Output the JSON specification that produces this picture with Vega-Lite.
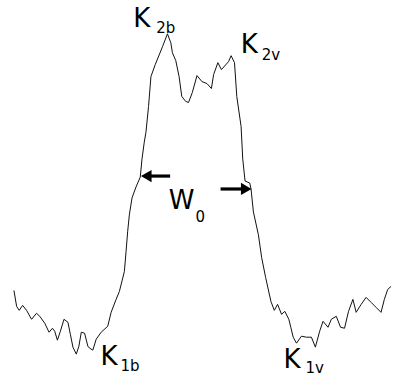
{
  "$schema": "https://vega.github.io/schema/vega-lite/v6.json",
  "width": 393,
  "height": 376,
  "padding": 0,
  "autosize": {"type": "fit", "contains": "padding"},
  "background": "white",
  "config": {"view": {"stroke": null}},
  "datasets": {
    "profile": [
      {"x": 14, "I": 84}, {"x": 16.7, "I": 68}, {"x": 19.3, "I": 64}, {"x": 22.7, "I": 69},
      {"x": 26.7, "I": 64}, {"x": 31.7, "I": 55}, {"x": 36.7, "I": 61}, {"x": 40, "I": 58},
      {"x": 45, "I": 51}, {"x": 49.3, "I": 42}, {"x": 52.7, "I": 46}, {"x": 55, "I": 43},
      {"x": 57.7, "I": 34}, {"x": 60.7, "I": 43}, {"x": 64.3, "I": 55}, {"x": 68.3, "I": 52},
      {"x": 70.7, "I": 40}, {"x": 73.3, "I": 27}, {"x": 76.7, "I": 20}, {"x": 79.3, "I": 28},
      {"x": 81.7, "I": 42}, {"x": 85, "I": 41}, {"x": 88.3, "I": 28}, {"x": 90, "I": 26},
      {"x": 93.3, "I": 24}, {"x": 96.7, "I": 35}, {"x": 101.7, "I": 42}, {"x": 108.3, "I": 48},
      {"x": 111.7, "I": 62}, {"x": 116.7, "I": 75}, {"x": 120, "I": 83}, {"x": 125, "I": 103},
      {"x": 126.7, "I": 123}, {"x": 128.3, "I": 143}, {"x": 130, "I": 160}, {"x": 132.7, "I": 177},
      {"x": 136.7, "I": 188}, {"x": 141, "I": 198}, {"x": 142.7, "I": 216}, {"x": 145, "I": 233},
      {"x": 146.7, "I": 243}, {"x": 149.3, "I": 269}, {"x": 151.7, "I": 299}, {"x": 156, "I": 311},
      {"x": 163.3, "I": 329}, {"x": 168.3, "I": 342}, {"x": 171.7, "I": 333}, {"x": 173.3, "I": 323},
      {"x": 176.7, "I": 315}, {"x": 180, "I": 299}, {"x": 182.7, "I": 279}, {"x": 186.7, "I": 274},
      {"x": 189.5, "I": 273}, {"x": 193.3, "I": 283}, {"x": 198, "I": 300}, {"x": 203, "I": 294},
      {"x": 208, "I": 292}, {"x": 212.5, "I": 287}, {"x": 214.7, "I": 301}, {"x": 219, "I": 313},
      {"x": 222.5, "I": 306}, {"x": 229.7, "I": 314}, {"x": 232.3, "I": 320}, {"x": 235.7, "I": 313},
      {"x": 238, "I": 279}, {"x": 242.3, "I": 249}, {"x": 244, "I": 216}, {"x": 246.3, "I": 194},
      {"x": 251, "I": 192}, {"x": 252.3, "I": 186}, {"x": 254.7, "I": 163}, {"x": 259.7, "I": 140},
      {"x": 263, "I": 117}, {"x": 267, "I": 97}, {"x": 272.3, "I": 73}, {"x": 275.7, "I": 64},
      {"x": 279, "I": 70}, {"x": 283, "I": 60}, {"x": 286.3, "I": 63}, {"x": 290.3, "I": 55},
      {"x": 292.3, "I": 47}, {"x": 294.7, "I": 37}, {"x": 298, "I": 31}, {"x": 303, "I": 38},
      {"x": 308, "I": 37}, {"x": 313, "I": 37}, {"x": 317, "I": 27}, {"x": 321.3, "I": 43},
      {"x": 324.7, "I": 53}, {"x": 329.7, "I": 47}, {"x": 333, "I": 55}, {"x": 338, "I": 58},
      {"x": 342.3, "I": 47}, {"x": 346.3, "I": 46}, {"x": 350.3, "I": 63}, {"x": 354.7, "I": 75},
      {"x": 358, "I": 62}, {"x": 363, "I": 70}, {"x": 368, "I": 77}, {"x": 373, "I": 72},
      {"x": 378, "I": 67}, {"x": 383, "I": 62}, {"x": 386.3, "I": 75}, {"x": 389.7, "I": 85},
      {"x": 393, "I": 88}
    ],
    "labels": [
      {"part": "main", "text": "K", "x": 134, "I": 349},
      {"part": "sub", "text": "2b", "x": 157, "I": 343},
      {"part": "main", "text": "K", "x": 242, "I": 323},
      {"part": "sub", "text": "2v", "x": 263, "I": 316},
      {"part": "main", "text": "K", "x": 101, "I": 9},
      {"part": "sub", "text": "1b", "x": 121, "I": 3},
      {"part": "main", "text": "K", "x": 285, "I": 6},
      {"part": "sub", "text": "1v", "x": 307, "I": 1},
      {"part": "main", "text": "W", "x": 169.5, "I": 166},
      {"part": "sub", "text": "0", "x": 196.5, "I": 153}
    ],
    "arrows": [
      {"dir": "left", "x": 147, "x2": 171, "head": 147, "I": 199},
      {"dir": "right", "x": 221.7, "x2": 247, "head": 247.5, "I": 186}
    ]
  },
  "encoding": {
    "x": {"field": "x", "type": "quantitative", "scale": {"domain": [0, 393], "nice": false, "zero": false}, "axis": null},
    "y": {"field": "I", "type": "quantitative", "scale": {"domain": [0, 376], "nice": false, "zero": false}, "axis": null}
  },
  "layer": [
    {
      "data": {"name": "profile"},
      "mark": {"type": "line", "color": "#111111", "strokeWidth": 1, "clip": false}
    },
    {
      "data": {"name": "arrows"},
      "mark": {"type": "rule", "color": "black", "strokeWidth": 3.2},
      "encoding": {"x2": {"field": "x2"}}
    },
    {
      "data": {"name": "arrows"},
      "transform": [{"filter": "datum.dir === 'left'"}],
      "mark": {"type": "point", "shape": "triangle-left", "filled": true, "color": "black", "size": 150, "opacity": 1},
      "encoding": {"x": {"field": "head", "type": "quantitative"}}
    },
    {
      "data": {"name": "arrows"},
      "transform": [{"filter": "datum.dir === 'right'"}],
      "mark": {"type": "point", "shape": "triangle-right", "filled": true, "color": "black", "size": 150, "opacity": 1},
      "encoding": {"x": {"field": "head", "type": "quantitative"}}
    },
    {
      "data": {"name": "labels"},
      "transform": [{"filter": "datum.part === 'main'"}],
      "mark": {"type": "text", "font": "DejaVu Sans", "fontSize": 26, "align": "left", "baseline": "alphabetic", "color": "black"},
      "encoding": {"text": {"field": "text"}}
    },
    {
      "data": {"name": "labels"},
      "transform": [{"filter": "datum.part === 'sub'"}],
      "mark": {"type": "text", "font": "DejaVu Sans", "fontSize": 15, "align": "left", "baseline": "alphabetic", "color": "black"},
      "encoding": {"text": {"field": "text"}}
    }
  ]
}
